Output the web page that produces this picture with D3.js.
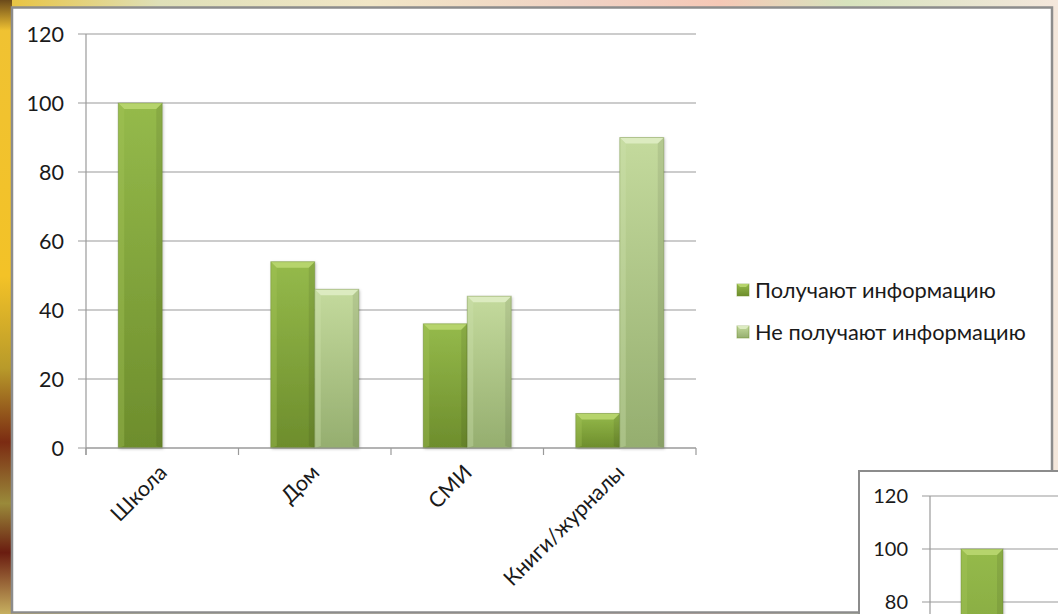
<!DOCTYPE html>
<html><head><meta charset="utf-8">
<script src="https://cdn.jsdelivr.net/npm/d3@7"></script>
<style>html,body{margin:0;padding:0;overflow:hidden;background:#f3e9c8}</style>
</head><body>
<svg id="c" width="1058" height="614"></svg>
<script>
const categories = ["Школа", "Дом", "СМИ", "Книги/журналы"];
const seriesNames = ["Получают информацию", "Не получают информацию"];
const getInfo = [100, 54, 36, 10];
const noInfo = [null, 46, 44, 90];
const yTicks = [0, 20, 40, 60, 80, 100, 120];
const insetTicks = [80, 100, 120];

const svg = d3.select("#c");
const defs = svg.append("defs");
const FONT = "Lato, 'Noto Sans', sans-serif";

// background (blurred photo approximation)
const bgH = defs.append("linearGradient").attr("id","bgH").attr("x1",0).attr("x2",1).attr("y1",0).attr("y2",0);
[[0,"#e9c23a"],[0.15,"#dfe0b8"],[0.35,"#f1e6c6"],[0.55,"#f0d2c4"],[0.68,"#f6c8b6"],[0.8,"#d7e3bd"],[1,"#f4e7dc"]].forEach(s=>bgH.append("stop").attr("offset",s[0]).attr("stop-color",s[1]));
svg.append("rect").attr("width",1058).attr("height",614).attr("fill","url(#bgH)");
const bgL = defs.append("linearGradient").attr("id","bgL").attr("x1",0).attr("x2",0).attr("y1",0).attr("y2",1);
[[0,"#6b4a1a"],[0.05,"#f0c232"],[0.45,"#f3c227"],[0.6,"#b89a2a"],[0.72,"#7b2b12"],[0.82,"#9a8a3a"],[0.9,"#6a1c10"],[1,"#c7b060"]].forEach(s=>bgL.append("stop").attr("offset",s[0]).attr("stop-color",s[1]));
svg.append("rect").attr("x",0).attr("y",0).attr("width",12).attr("height",614).attr("fill","url(#bgL)");

// main white panel
svg.append("rect").attr("x",12).attr("y",7.5).attr("width",1040).attr("height",605)
  .attr("fill","#ffffff").attr("stroke","#8c8c8c").attr("stroke-width",2.5);

// gradients for bars
function grad(id, top, bottom){
  const g = defs.append("linearGradient").attr("id",id).attr("x1",0).attr("x2",0).attr("y1",0).attr("y2",1);
  g.append("stop").attr("offset",0).attr("stop-color",top);
  g.append("stop").attr("offset",1).attr("stop-color",bottom);
}
grad("g0","#95ba4b","#6d8d2c");
grad("g1","#c4da9d","#95ae6f");
const bevelTop = ["#b6d46c","#dcebc0"];
const bevelSide = ["#a5c75a","#cfe2ae"];
const shadowF = defs.append("filter").attr("id","sh").attr("x","-20%").attr("y","-5%").attr("width","140%").attr("height","110%");
shadowF.append("feDropShadow").attr("dx",1).attr("dy",1).attr("stdDeviation",1.5).attr("flood-color","#000").attr("flood-opacity",0.25);

function drawChart(g, opt){
  const y = d3.scaleLinear().domain([0,120]).range([opt.y0, opt.y120]);
  const x0 = d3.scaleBand().domain(categories).range([opt.axisX, opt.axisX + opt.band*categories.length]);
  const x1 = d3.scaleBand().domain([0,1]).range([0, opt.bar*2]);
  const off = (opt.band - opt.bar*2)/2;

  const ticks = opt.ticks;
  g.append("g").selectAll("line").data(ticks).join("line")
    .attr("x1", opt.axisX - 8).attr("x2", opt.gridEnd)
    .attr("y1", d=>y(d)).attr("y2", d=>y(d))
    .attr("stroke","#9a9a9a").attr("stroke-width",1.2);
  g.append("line").attr("x1",opt.axisX).attr("x2",opt.axisX)
    .attr("y1", y(d3.max(ticks))).attr("y2", opt.axisBottom)
    .attr("stroke","#9a9a9a").attr("stroke-width",1.2);
  g.append("g").selectAll("text").data(ticks).join("text")
    .attr("x", opt.labelX).attr("y", d=>y(d)).attr("dy","0.35em")
    .attr("text-anchor","end").attr("font-family",FONT).attr("font-size",opt.fs)
    .attr("fill","#1a1a1a").text(d=>d);

  const series = [getInfo, noInfo];
  series.forEach((vals, si)=>{
    const data = categories.map((c,i)=>({c, v: vals[i]})).filter(d=>d.v!=null);
    const bg = g.append("g");
    data.forEach(d=>{
      const bx = x0(d.c) + off + x1(si), bw = x1.bandwidth();
      const by = y(d.v), bh = y(0) - y(d.v);
      const b = 6;
      const grp = bg.append("g");
      grp.append("rect").attr("x",bx).attr("y",by).attr("width",bw).attr("height",bh)
        .attr("fill",`url(#g${si})`).attr("filter","url(#sh)");
      grp.append("path").attr("d",`M${bx},${by}L${bx+bw},${by}L${bx+bw-b},${by+b}L${bx+b},${by+b}Z`)
        .attr("fill",bevelTop[si]);
      grp.append("path").attr("d",`M${bx},${by}L${bx+b},${by+b}L${bx+b},${by+bh-2}L${bx},${by+bh}Z`)
        .attr("fill",bevelSide[si]).attr("opacity",0.35);
      grp.append("path").attr("d",`M${bx+bw},${by}L${bx+bw-b},${by+b}L${bx+bw-b},${by+bh-2}L${bx+bw},${by+bh}Z`)
        .attr("fill","#000").attr("opacity",0.08);
      grp.append("rect").attr("x",bx).attr("y",by).attr("width",bw).attr("height",bh)
        .attr("fill","none").attr("stroke","#5f7a2a").attr("stroke-opacity",0.35).attr("stroke-width",1);
    });
  });

  if (opt.xAxis){
    g.append("line").attr("x1",opt.axisX).attr("x2",opt.gridEnd).attr("y1",y(0)).attr("y2",y(0))
      .attr("stroke","#9a9a9a").attr("stroke-width",1.2);
    const tickXs = categories.map(c=>x0(c)).concat([x0.range()[1]]);
    g.append("g").selectAll("line").data(tickXs).join("line")
      .attr("x1",d=>d).attr("x2",d=>d).attr("y1",y(0)).attr("y2",y(0)+7)
      .attr("stroke","#9a9a9a").attr("stroke-width",1.2);
    g.append("g").selectAll("text").data(categories).join("text")
      .attr("transform", c=>`translate(${x0(c)+x0.bandwidth()/2+6},${y(0)+26}) rotate(-45)`)
      .attr("text-anchor","end").attr("font-family",FONT).attr("font-size",opt.fs)
      .attr("fill","#1a1a1a").text(c=>c);
  }
}

drawChart(svg.append("g"), {y0:448, y120:34, axisX:86, band:152.5, bar:44, gridEnd:696,
  ticks:yTicks, labelX:64, fs:21.5, axisBottom:455, xAxis:true});

// legend
const leg = svg.append("g");
seriesNames.forEach((n,i)=>{
  const ly = 290 + i*42;
  leg.append("rect").attr("x",737).attr("y",ly-6).attr("width",12).attr("height",12)
    .attr("fill",`url(#g${i})`).attr("stroke","#6f8f2e").attr("stroke-opacity",0.5);
  leg.append("path").attr("d",`M737,${ly-6}L749,${ly-6}L746,${ly-3}L740,${ly-3}Z`).attr("fill",bevelTop[i]);
  leg.append("text").attr("x",755).attr("y",ly).attr("dy","0.36em")
    .attr("font-family",FONT).attr("font-size",21.8).attr("fill","#1a1a1a").text(n);
});

// inset (second slide copy) at bottom right
defs.append("clipPath").attr("id","ic").append("rect").attr("x",858).attr("y",470).attr("width",200).attr("height",144);
const ig = svg.append("g").attr("clip-path","url(#ic)");
ig.append("rect").attr("x",859).attr("y",471).attr("width",220).attr("height",160)
  .attr("fill","#fff").attr("stroke","#8c8c8c").attr("stroke-width",2);
drawChart(ig.append("g"), {y0:814, y120:496, axisX:930, band:146, bar:42, gridEnd:1100,
  ticks:insetTicks, labelX:908, fs:20, axisBottom:620, xAxis:false});
</script>
</body></html>
